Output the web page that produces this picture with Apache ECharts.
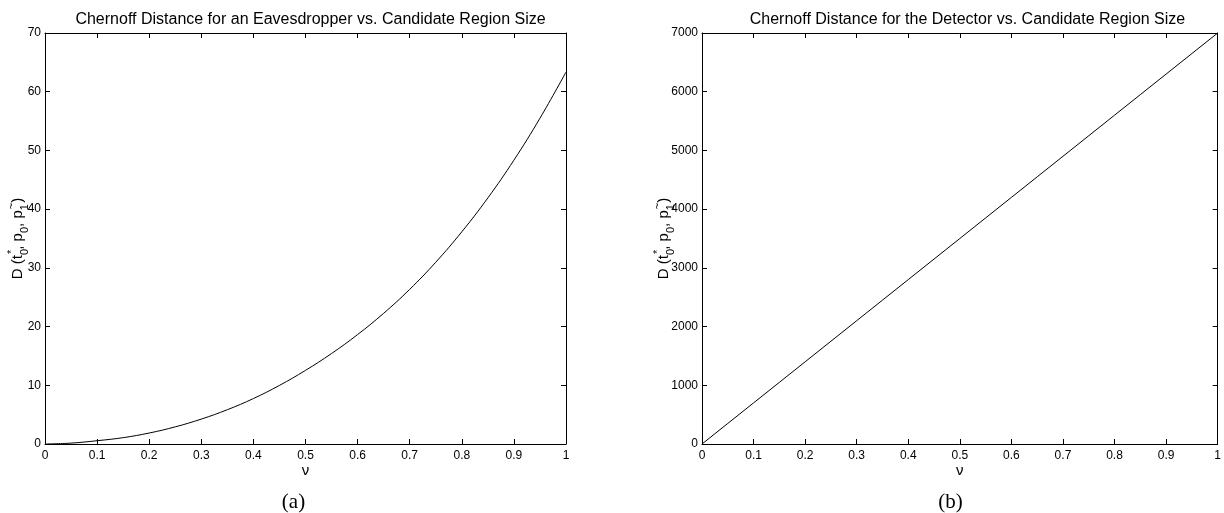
<!DOCTYPE html>
<html>
<head>
<meta charset="utf-8">
<script src="https://cdn.jsdelivr.net/npm/echarts@6/dist/echarts.min.js"></script>
<style>
  html, body { margin: 0; padding: 0; background: #fff; }
  #chart { width: 1224px; height: 513px; }
</style>
</head>
<body>
<div id="chart"></div>
<script>
// Candidate region size ν (shared x values)
const nu = [0, 0.05, 0.1, 0.15, 0.2, 0.25, 0.3, 0.35, 0.4, 0.45, 0.5,
            0.55, 0.6, 0.65, 0.7, 0.75, 0.8, 0.85, 0.9, 0.95, 1.0];

// Chernoff distance seen by an eavesdropper
const eavesdropperD = [0, 0.15, 0.56, 1.08, 1.87, 2.92, 4.24, 5.84, 7.74, 9.98, 12.54,
                       15.41, 18.64, 22.26, 26.34, 30.96, 36.14, 41.91, 48.34, 55.48, 63.34];

// Chernoff distance seen by the detector
const detectorD = [0, 350, 700, 1050, 1400, 1750, 2100, 2450, 2800, 3150, 3500,
                   3850, 4200, 4550, 4900, 5250, 5600, 5950, 6300, 6650, 7000];

// Axis ranges / tick steps
const xRange = { min: 0, max: 1, step: 0.1 };
const yRangeA = { min: 0, max: 70, step: 10 };
const yRangeB = { min: 0, max: 7000, step: 1000 };

const titles = [
  'Chernoff Distance for an Eavesdropper vs. Candidate Region Size',
  'Chernoff Distance for the Detector vs. Candidate Region Size'
];
const captions = ['(a)', '(b)'];

const SANS = '"Liberation Sans", Arial, Helvetica, sans-serif';
const grids = [
  { left: 45, top: 33, width: 521, height: 411 },
  { left: 702, top: 33, width: 521, height: 411 }
];

// D(t0*, p0, p1~) with stacked sub/superscripts
const yName = '{b|D (t}{sz|0}{sup|*}{b|, p}{sub|0}{b|, p}{sz|1}{sup|~}{b|)}';
const yNameRich = {
  b:   { fontSize: 15, fontFamily: SANS, color: '#000', align: 'left', verticalAlign: 'middle', lineHeight: 24 },
  sub: { fontSize: 11, fontFamily: SANS, color: '#000', align: 'left', verticalAlign: 'bottom', lineHeight: 10 },
  sz:  { fontSize: 11, fontFamily: SANS, color: '#000', align: 'left', verticalAlign: 'bottom', lineHeight: 10, width: 1 },
  sup: { fontSize: 11, fontFamily: SANS, color: '#000', align: 'left', verticalAlign: 'top', lineHeight: 10 }
};

const tickFmt = v => String(+(+v).toFixed(1));

function axisBase(extra) {
  return Object.assign({
    type: 'value',
    axisLine: { show: true, onZero: false, lineStyle: { color: '#000', width: 1 } },
    axisTick: { show: true, inside: true, length: 5, lineStyle: { color: '#000', width: 1 } },
    splitLine: { show: false },
    axisLabel: { show: false }
  }, extra);
}

const xAxes = [], yAxes = [];
grids.forEach((g, i) => {
  const yr = i === 0 ? yRangeA : yRangeB;
  xAxes.push(axisBase({
    gridIndex: i, position: 'bottom', min: xRange.min, max: xRange.max, interval: xRange.step,
    name: 'ν', nameLocation: 'middle', nameGap: 19, nameMoveOverlap: false,
    nameTextStyle: { fontSize: 15, fontFamily: SANS, color: '#000' },
    axisLabel: { show: true, margin: 6, fontSize: 12, fontFamily: SANS, color: '#000', formatter: tickFmt }
  }));
  xAxes.push(axisBase({
    gridIndex: i, position: 'top', min: xRange.min, max: xRange.max, interval: xRange.step
  }));
  yAxes.push(axisBase({
    gridIndex: i, position: 'left', min: yr.min, max: yr.max, interval: yr.step,
    name: yName, nameLocation: 'middle', nameRotate: 90, nameGap: i === 0 ? 15 : 26,
    nameMoveOverlap: false,
    nameTextStyle: { rich: yNameRich },
    axisLabel: { show: true, margin: 4, fontSize: 12, fontFamily: SANS, color: '#000', formatter: v => String(v) }
  }));
  yAxes.push(axisBase({
    gridIndex: i, position: 'right', min: yr.min, max: yr.max, interval: yr.step
  }));
});

const option = {
  animation: false,
  backgroundColor: '#fff',
  title: titles.map((t, i) => ({
    text: t,
    left: grids[i].left + grids[i].width / 2,
    textAlign: 'center',
    top: 7,
    textStyle: { fontSize: 16, fontWeight: 'normal', fontFamily: SANS, color: '#000' }
  })),
  grid: grids,
  xAxis: xAxes,
  yAxis: yAxes,
  series: [
    {
      type: 'line', xAxisIndex: 0, yAxisIndex: 0,
      data: nu.map((x, k) => [x, eavesdropperD[k]]),
      showSymbol: false, smooth: 0.4,
      lineStyle: { color: '#000', width: 1 }
    },
    {
      type: 'line', xAxisIndex: 2, yAxisIndex: 2,
      data: nu.map((x, k) => [x, detectorD[k]]),
      showSymbol: false,
      lineStyle: { color: '#000', width: 1 }
    }
  ],
  graphic: captions.map((c, i) => ({
    type: 'text',
    x: grids[i].left + grids[i].width / 2 - 12,
    y: 502,
    style: {
      text: c, fill: '#000', align: 'center', verticalAlign: 'middle',
      font: '21px "Liberation Serif", "DejaVu Serif", serif'
    }
  }))
};

const chart = echarts.init(document.getElementById('chart'), null, { renderer: 'canvas' });
chart.setOption(option);
</script>
</body>
</html>
